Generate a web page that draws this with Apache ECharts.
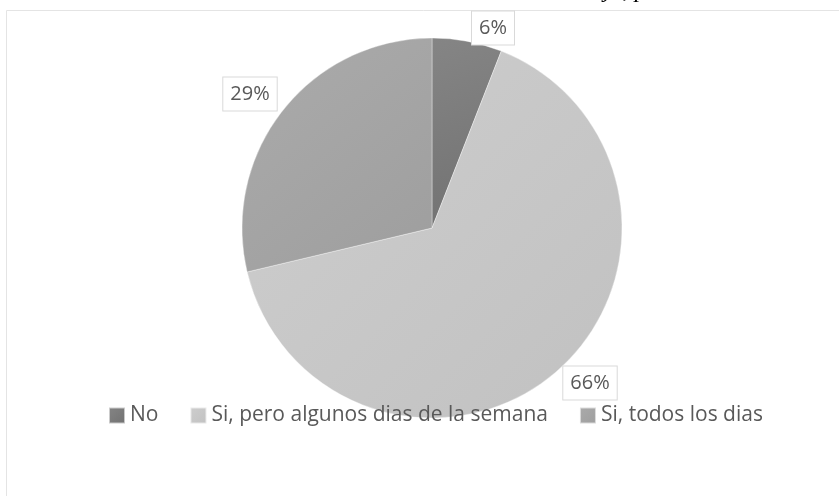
<!DOCTYPE html>
<html>
<head>
<meta charset="utf-8">
<script src="https://cdn.jsdelivr.net/npm/echarts@6/dist/echarts.min.js"></script>
<style>html,body{margin:0;padding:0;background:#fff;}#c{width:839px;height:496px;}</style>
</head>
<body>
<div id="c"></div>
<script>
var categories = ['No', 'Si, pero algunos dias de la semana', 'Si, todos los dias'];
var values = [6, 66, 29];
var labelTexts = ['6%', '66%', '29%'];

var colors = [
  {type:'linear',x:0,y:0,x2:1,y2:1,colorStops:[{offset:0,color:'#858585'},{offset:1,color:'#717171'}]},
  {type:'linear',x:0,y:0,x2:1,y2:1,colorStops:[{offset:0,color:'#cecece'},{offset:1,color:'#c1c1c1'}]},
  {type:'linear',x:0,y:0,x2:1,y2:1,colorStops:[{offset:0,color:'#ababab'},{offset:1,color:'#9e9e9e'}]}
];
var labelPos = [[493, 28], [590, 383], [250, 94]];

var chart = echarts.init(document.getElementById('c'), null, {renderer:'canvas'});
var font = '"Open Sans", sans-serif';
chart.setOption({
  animation: false,
  backgroundColor: '#fff',
  color: colors,
  graphic: [
    {type:'rect', shape:{x:6.5, y:10.5, width:840, height:500}, style:{fill:'none', stroke:'#e4e4e4', lineWidth:1}, z:-1},
    {type:'text', x:552, y:2.5, style:{text:'trabajo, por', font:'italic 24px "Liberation Serif", serif', fill:'#000', align:'left', verticalAlign:'bottom'}}
  ],
  legend: {
    data: categories,
    top: 400,
    left: 103,
    icon: 'rect',
    itemWidth: 16,
    itemHeight: 16,
    itemGap: 31,
    textStyle: {fontFamily: font, fontSize: 21, color: '#595959'}
  },
  series: [{
    type: 'pie',
    center: [432, 228],
    radius: 190,
    startAngle: 90,
    clockwise: true,
    z: 1,
    itemStyle: {borderColor: 'rgba(255,255,255,0.6)', borderWidth: 0.6},
    label: {
      show: true,
      position: 'outside',
      formatter: function(p){ return labelTexts[p.dataIndex]; },
      fontFamily: font,
      fontSize: 20,
      color: '#595959',
      backgroundColor: '#fff',
      borderColor: '#d9d9d9',
      borderWidth: 1,
      padding: [7, 7, 6, 7]
    },
    labelLine: {show: false},
    labelLayout: function(params){
      var p = labelPos[params.dataIndex];
      return {x: p[0], y: p[1], align: 'center', verticalAlign: 'middle'};
    },
    emphasis: {disabled: true},
    data: categories.map(function(c, i){ return {name: c, value: values[i]}; })
  }]
});
</script>
</body>
</html>
